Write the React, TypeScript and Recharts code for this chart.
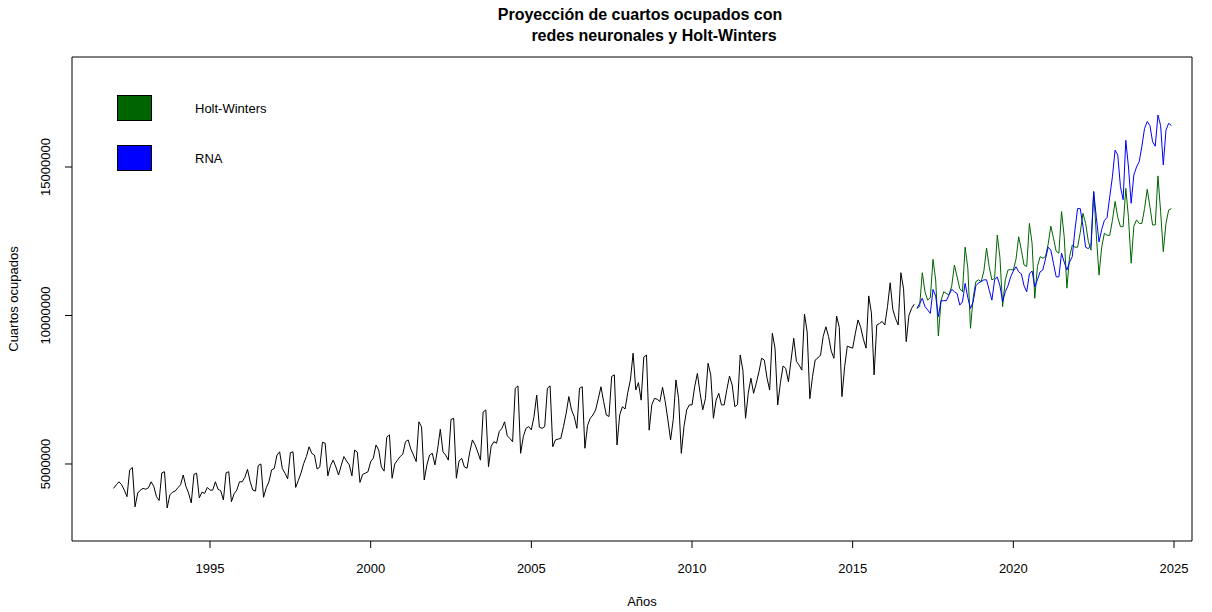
import React from "react";
import { LineChart, Line, XAxis, YAxis, Legend, ReferenceArea } from "recharts";

const fuente = "'Liberation Sans', Arial, sans-serif";

const inicioHistorico = 1992;
const inicioProyeccion = 2017;

// millones de cuartos ocupados, ene..dic de cada año (1992-2016)
const historico = [
  4.18, 4.3, 4.4, 4.3, 4.12, 3.9, 4.8, 4.88, 3.56, 4.02, 4.12, 4.18,
  4.15, 4.2, 4.4, 4.25, 3.9, 3.77, 4.7, 4.74, 3.52, 3.96, 4.05, 4.09,
  4.2, 4.3, 4.63, 4.25, 4.02, 3.69, 4.65, 4.69, 3.86, 4.05, 4.01, 4.21,
  4.12, 4.12, 4.4, 4.15, 4.1, 3.79, 4.7, 4.74, 3.73, 4.0, 4.12, 4.4,
  4.4, 4.55, 4.82, 4.4, 4.12, 4.09, 4.95, 5.0, 3.88, 4.2, 4.4, 4.8,
  4.85, 5.3, 5.41, 4.85, 4.69, 4.5, 5.38, 5.41, 4.21, 4.45, 4.7, 5.02,
  5.25, 5.58, 5.36, 5.3, 4.83, 4.9, 5.73, 5.7, 4.6, 4.95, 5.13, 4.9,
  4.63, 4.95, 5.25, 5.1, 4.97, 4.6, 5.47, 5.4, 4.38, 4.65, 4.69, 4.74,
  5.08, 5.2, 5.64, 5.47, 4.9, 4.76, 5.9, 5.98, 4.52, 5.0, 5.13, 5.25,
  5.33, 5.75, 5.81, 5.5, 5.3, 5.08, 6.42, 6.25, 4.46, 4.97, 5.3, 5.36,
  4.97, 5.5, 6.17, 5.41, 5.3, 5.13, 6.5, 6.54, 4.52, 5.1, 5.19, 4.9,
  4.86, 5.4, 5.81, 5.64, 5.4, 5.13, 6.75, 6.82, 4.91, 5.6, 5.75, 5.7,
  6.09, 6.2, 6.42, 5.95, 5.86, 5.75, 7.55, 7.63, 5.36, 5.92, 6.2, 6.26,
  6.15, 6.6, 7.32, 6.24, 6.2, 6.26, 7.55, 7.63, 5.58, 5.81, 5.84, 5.86,
  6.26, 6.7, 7.27, 6.82, 6.6, 6.2, 7.55, 7.6, 5.53, 6.3, 6.54, 6.65,
  6.82, 7.2, 7.6, 7.1, 6.65, 6.6, 7.95, 8.0, 5.64, 6.65, 6.93, 6.85,
  7.4, 7.83, 8.73, 7.49, 7.74, 7.15, 8.6, 8.67, 6.14, 7.0, 7.21, 7.18,
  7.1, 7.58, 7.1, 6.48, 5.81, 6.5, 7.83, 7.2, 5.36, 6.26, 6.82, 6.99,
  6.99, 7.6, 8.05, 7.4, 6.82, 7.2, 8.39, 8.0, 6.54, 7.15, 7.38, 6.99,
  6.99, 7.5, 7.96, 7.66, 6.93, 7.0, 8.67, 8.16, 6.54, 7.38, 7.89, 7.38,
  7.72, 8.1, 8.56, 8.5, 7.9, 7.49, 9.4, 8.9, 6.99, 7.72, 8.3, 8.22,
  7.77, 8.5, 9.23, 8.45, 8.33, 8.16, 10.05, 9.45, 7.2, 7.94, 8.5, 8.57,
  8.67, 9.3, 9.62, 9.29, 8.8, 8.56, 9.98, 9.6, 7.27, 8.28, 8.97, 8.93,
  8.9, 9.4, 9.85, 9.6, 9.2, 8.9, 10.66, 10.08, 8.0, 9.68, 9.73, 9.8,
  9.68, 10.3, 11.1, 10.2, 9.9, 9.68, 11.44, 10.9, 9.12, 10.0, 10.24, 10.38,
];

// proyecciones 2017-2024, millones
const holtWinters = [
  10.24, 10.3, 11.44, 10.8, 10.52, 10.6, 11.89, 11.2, 9.31, 10.5, 10.8, 10.74,
  10.7, 11.0, 11.7, 11.3, 10.9, 10.8, 12.3, 11.6, 9.57, 10.6, 11.14, 11.2,
  11.14, 11.5, 12.27, 11.63, 11.2, 11.25, 12.71, 11.95, 10.3, 11.2, 11.53, 11.55,
  11.53, 11.9, 12.65, 12.2, 11.7, 11.65, 13.1, 12.43, 10.58, 11.65, 11.98, 11.93,
  11.98, 12.4, 13.01, 12.6, 12.16, 12.1, 13.5, 12.65, 10.92, 11.98, 12.37, 12.3,
  12.3, 12.8, 13.44, 13.1, 12.5, 12.2, 14.17, 12.7, 11.36, 12.3, 12.77, 12.7,
  12.7, 13.2, 13.84, 13.3, 12.99, 12.99, 14.28, 13.3, 11.76, 13.0, 13.22, 13.1,
  13.1, 13.6, 14.25, 13.67, 13.05, 13.05, 14.7, 13.5, 12.15, 13.1, 13.55, 13.6,
];

const rna = [
  10.24, 10.4, 10.58, 10.3, 10.19, 10.07, 10.88, 10.65, 9.96, 10.5, 10.5, 10.5,
  10.7, 10.88, 10.8, 10.74, 10.35, 10.46, 11.08, 10.6, 10.24, 10.46, 11.0, 11.1,
  11.14, 11.2, 11.2, 10.85, 10.52, 11.2, 11.3, 11.0, 10.47, 10.8, 11.0, 11.3,
  11.5, 11.64, 11.47, 11.4, 11.0, 10.8, 11.4, 11.5, 10.97, 11.2, 11.47, 11.53,
  11.9, 12.3, 12.2, 11.75, 11.3, 11.3, 12.1, 11.8, 11.53, 11.8, 11.98, 12.88,
  13.6, 13.6, 13.0, 12.3, 12.25, 12.37, 14.17, 13.3, 12.48, 12.9, 13.2, 13.3,
  14.0, 14.67, 15.57, 15.4, 14.34, 13.9, 15.9, 15.0, 13.78, 14.73, 15.0, 15.18,
  15.69, 16.3, 16.53, 16.4, 15.85, 15.7, 16.75, 16.4, 15.07, 16.24, 16.47, 16.4,
];

const ticksAnios = [1995, 2000, 2005, 2010, 2015, 2020, 2025];
const ticksCuartos = [5000000, 10000000, 15000000];
const seriesLeyenda = ["Holt-Winters", "RNA"];
const dominioX: [number, number] = [1990.705, 2025.56];
const dominioY: [number, number] = [2407000, 18704000];

type Fila = { t: number; real?: number; hw?: number; rna?: number };

const datos: Fila[] = [];
historico.forEach((v, i) => datos.push({ t: inicioHistorico + i / 12, real: v * 1e6 }));
holtWinters.forEach((v, i) =>
  datos.push({ t: inicioProyeccion + i / 12, hw: v * 1e6, rna: rna[i] * 1e6 })
);

const TickY = ({ x, y, payload }: any) => (
  <text
    x={x - 17}
    y={y}
    transform={`rotate(-90, ${x - 17}, ${y})`}
    textAnchor="middle"
    dominantBaseline="central"
    fontSize={13}
    fontFamily={fuente}
    fill="#000"
  >
    {String(payload.value)}
  </text>
);

const Leyenda = ({ payload }: any) => (
  <div style={{ fontFamily: fuente, fontSize: 13 }}>
    {(payload || [])
      .filter((p: any) => seriesLeyenda.includes(p.value))
      .map((p: any) => (
        <div key={p.value} style={{ display: "flex", alignItems: "center", height: 26, marginBottom: 24 }}>
          <span
            style={{
              display: "inline-block",
              width: 35,
              height: 26,
              background: p.color,
              border: "1px solid #000",
              boxSizing: "border-box",
            }}
          />
          <span style={{ marginLeft: 43, color: "#000" }}>{p.value}</span>
        </div>
      ))}
  </div>
);

export default function App() {
  return (
    <div style={{ position: "absolute", left: 0, top: 0, width: 1212, height: 612, background: "#fff" }}>
      <div
        style={{
          position: "absolute",
          left: 0,
          width: 1280,
          top: 4,
          textAlign: "center",
          fontFamily: fuente,
          fontWeight: "bold",
          fontSize: 16,
          lineHeight: "21px",
          color: "#000",
        }}
      >
        Proyección de cuartos ocupados con
      </div>
      <div
        style={{
          position: "absolute",
          left: 0,
          width: 1308,
          top: 25,
          textAlign: "center",
          fontFamily: fuente,
          fontWeight: "bold",
          fontSize: 16,
          lineHeight: "21px",
          color: "#000",
        }}
      >
        redes neuronales y Holt-Winters
      </div>
      <div
        style={{
          position: "absolute",
          left: 0,
          width: 1284,
          top: 594,
          textAlign: "center",
          fontFamily: fuente,
          fontSize: 13,
          color: "#000",
        }}
      >
        Años
      </div>
      <div
        style={{
          position: "absolute",
          left: 13,
          top: 299,
          transform: "translate(-50%, -50%) rotate(-90deg)",
          whiteSpace: "nowrap",
          fontFamily: fuente,
          fontSize: 13,
          color: "#000",
        }}
      >
        Cuartos ocupados
      </div>
      <LineChart width={1212} height={612} data={datos} margin={{ top: 57, right: 20, bottom: 0, left: 0 }}>
        <XAxis
          type="number"
          dataKey="t"
          domain={dominioX}
          ticks={ticksAnios}
          allowDataOverflow
          height={71}
          axisLine={false}
          tickLine={{ stroke: "#000" }}
          tickSize={7}
          tickMargin={16}
          tick={{ fill: "#000", fontSize: 13, fontFamily: fuente }}
        />
        <YAxis
          type="number"
          domain={dominioY}
          ticks={ticksCuartos}
          allowDataOverflow
          width={72}
          axisLine={false}
          tickLine={{ stroke: "#000" }}
          tickSize={7}
          tick={<TickY />}
        />
        <ReferenceArea
          x1={dominioX[0]}
          x2={dominioX[1]}
          y1={dominioY[0]}
          y2={dominioY[1]}
          fill="none"
          stroke="#000"
          strokeWidth={1}
          ifOverflow="visible"
        />
        <Legend
          layout="vertical"
          align="center"
          verticalAlign="middle"
          wrapperStyle={{ left: 117, top: 95, width: 220 }}
          content={<Leyenda />}
        />
        <Line
          dataKey="real"
          name="Histórico"
          stroke="#000"
          strokeWidth={1}
          dot={false}
          legendType="none"
          isAnimationActive={false}
        />
        <Line
          dataKey="hw"
          name="Holt-Winters"
          stroke="#006400"
          strokeWidth={1}
          dot={false}
          isAnimationActive={false}
        />
        <Line
          dataKey="rna"
          name="RNA"
          stroke="#0000FF"
          strokeWidth={1}
          dot={false}
          isAnimationActive={false}
        />
      </LineChart>
    </div>
  );
}
